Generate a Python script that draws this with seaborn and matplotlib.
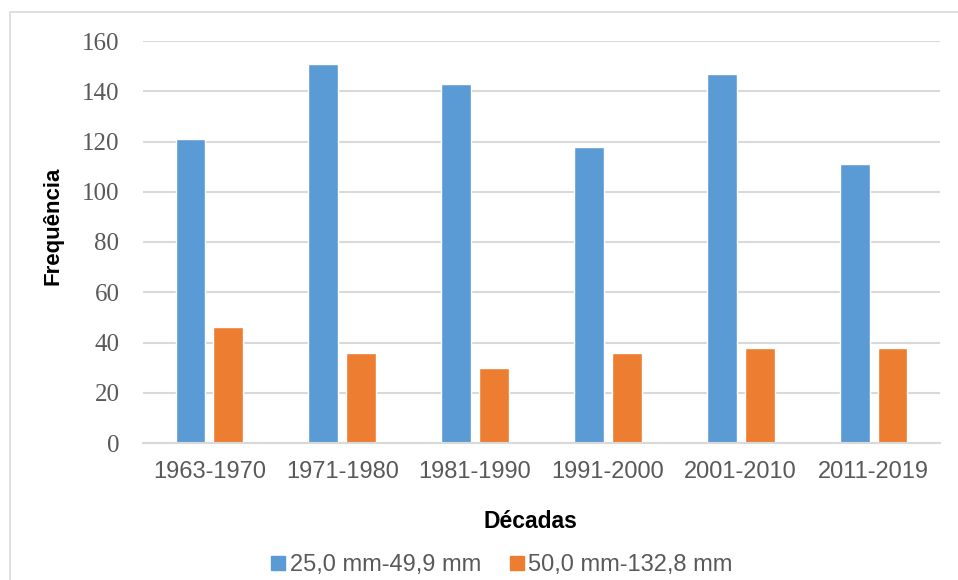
import matplotlib
matplotlib.use("Agg")
import matplotlib.pyplot as plt
from matplotlib.lines import Line2D
from matplotlib.patches import Rectangle
import seaborn as sns
import pandas as pd

# Frequency of heavy-rain days per decade, by precipitation class
decadas = ["1963-1970", "1971-1980", "1981-1990", "1991-2000", "2001-2010", "2011-2019"]
classe_25_50 = [121, 151, 143, 118, 147, 111]
classe_50_133 = [46, 36, 30, 36, 38, 38]
serie_nomes = ["25,0 mm-49,9 mm", "50,0 mm-132,8 mm"]
cores = ["#5B9BD5", "#ED7D31"]
y_ticks = [0, 20, 40, 60, 80, 100, 120, 140, 160]

df = pd.DataFrame({
    "Décadas": decadas * 2,
    "Frequência": classe_25_50 + classe_50_133,
    "Classe": [serie_nomes[0]] * len(decadas) + [serie_nomes[1]] * len(decadas),
})

sns.set_theme(style="white")
plt.rcParams["font.family"] = ["Liberation Sans", "DejaVu Sans"]

fig = plt.figure(figsize=(9.58, 5.80), dpi=100)
ax = fig.add_axes([143 / 958, 1 - 443 / 580, (940 - 143) / 958, (443 - 41) / 580])

sns.barplot(data=df, x="Décadas", y="Frequência", hue="Classe",
            palette=cores, width=0.57, gap=0.21, saturation=1,
            order=decadas, hue_order=serie_nomes, ax=ax, legend=False)

ax.set_ylim(0, 160)
ax.set_xlim(-0.5, len(decadas) - 0.5)
ax.set_yticks(y_ticks)
ax.set_yticklabels([str(v) for v in y_ticks], family="Liberation Serif",
                   fontsize=18, color="#595959")
ax.tick_params(axis="y", length=0, pad=17)
ax.tick_params(axis="x", length=0, pad=13, labelsize=17, labelcolor="#595959")

ax.yaxis.grid(True, color="#d9d9d9", linewidth=1.5)
ax.set_axisbelow(True)
for side in ["top", "right", "left"]:
    ax.spines[side].set_visible(False)
ax.spines["bottom"].set_color("#d9d9d9")
ax.spines["bottom"].set_linewidth(1.5)

ax.set_xlabel("")
ax.set_ylabel("")
fig.text(530 / 958, 1 - 521 / 580, "Décadas", ha="center", va="center",
         fontsize=16.5, fontweight="bold", color="black")
fig.text(53 / 958, 1 - 226 / 580, "Frequência", ha="center", va="center",
         rotation=90, fontsize=16, fontweight="bold", color="black")

handles = [Line2D([0], [0], marker="s", linestyle="", markersize=10,
                  markerfacecolor=c, markeredgecolor=c) for c in cores]
fig.legend(handles, serie_nomes, loc="center", bbox_to_anchor=(502 / 958, 1 - 565 / 580),
           ncol=2, frameon=False, fontsize=17, handlelength=0.6,
           handletextpad=0.2, columnspacing=1.2, labelcolor="#595959")

# Chart-area border (top and left edges visible)
fig.add_artist(Rectangle((9.5 / 958, -0.1), 1.2, 1.1 - 11.5 / 580,
                         transform=fig.transFigure, fill=False,
                         edgecolor="#d9d9d9", linewidth=1.2))

fig.savefig("out.png", dpi=100)
